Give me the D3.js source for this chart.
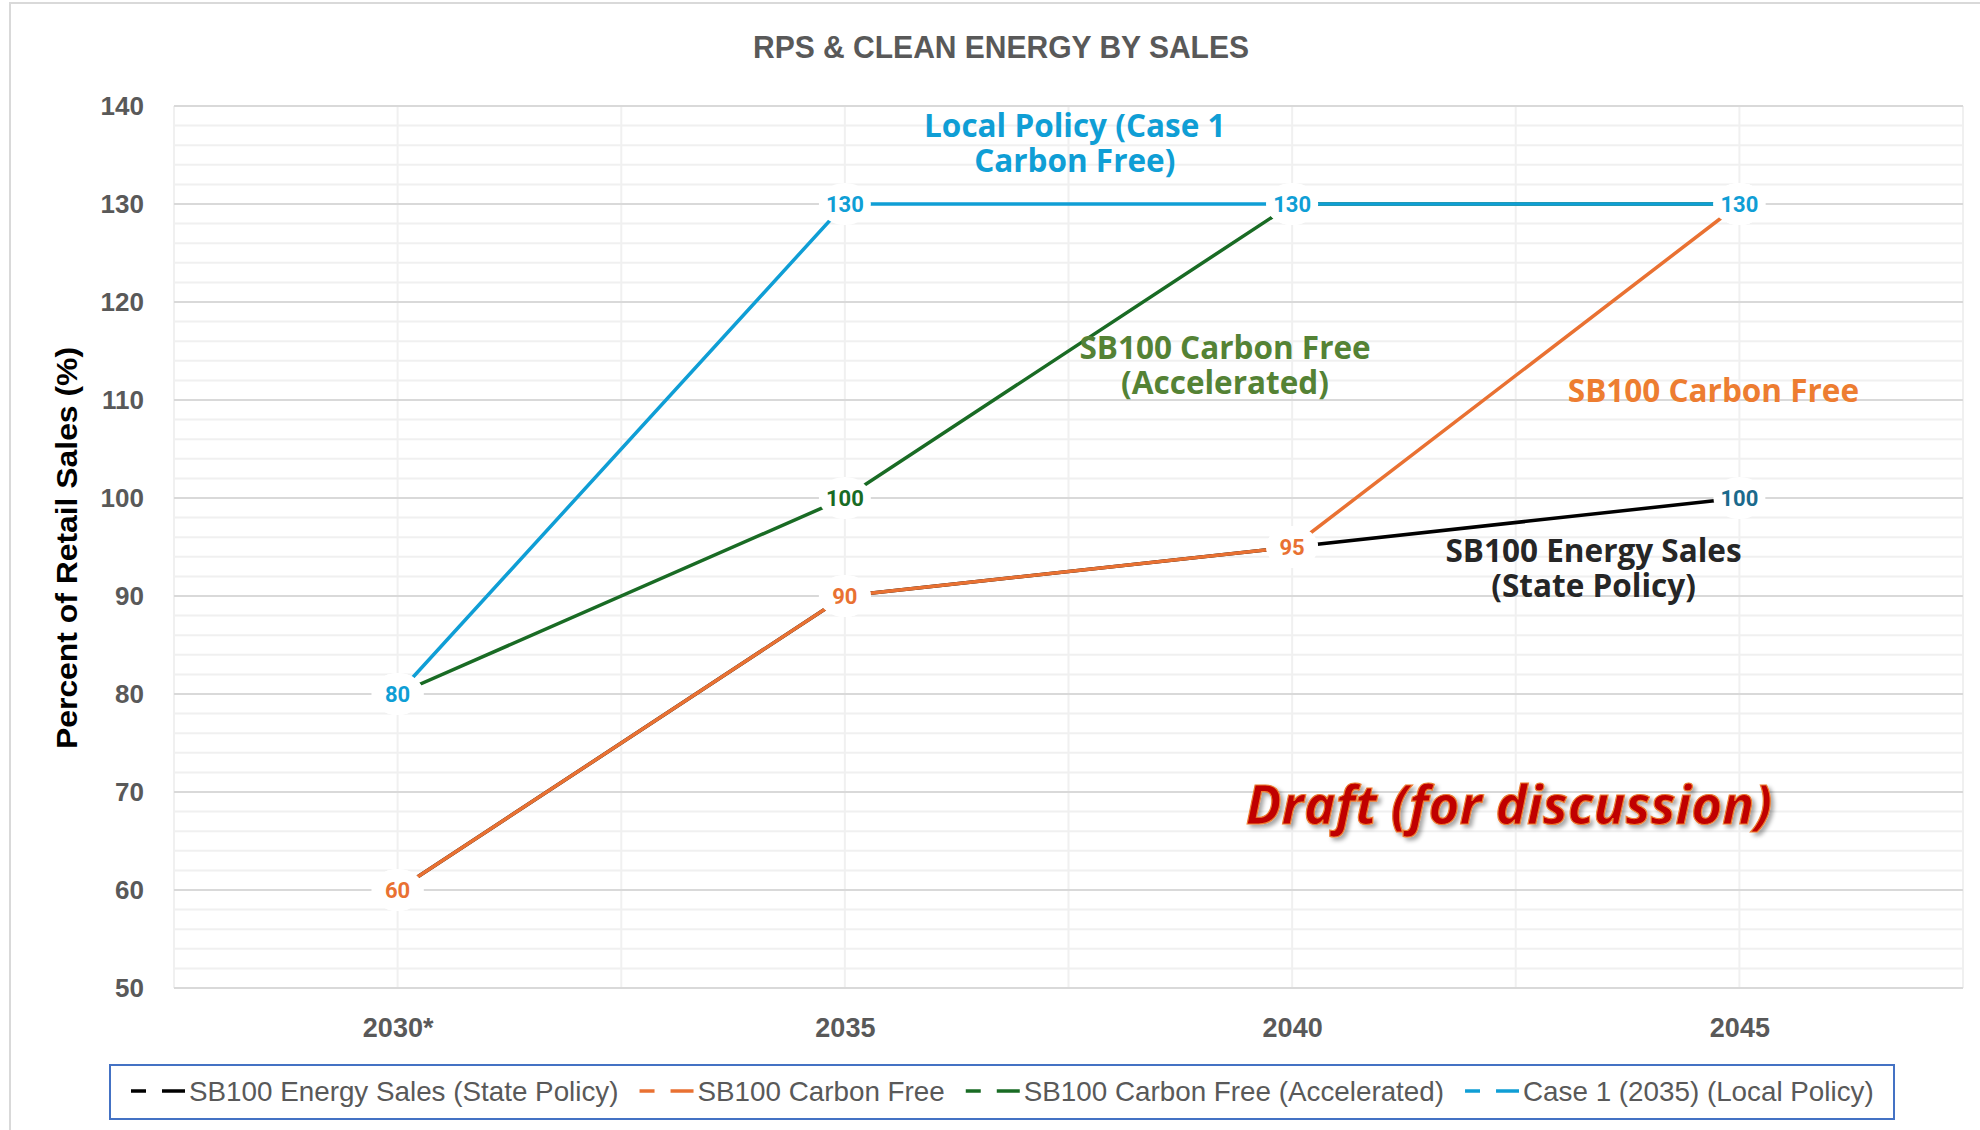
<!DOCTYPE html>
<html>
<head>
<meta charset="utf-8">
<script src="https://cdn.jsdelivr.net/npm/d3@7"></script>
<style>
  body { margin: 0; background: #fff; }
  svg { display: block; }
</style>
</head>
<body>
<div id="chart"></div>
<script>
// chart data
const years = ["2030*", "2035", "2040", "2045"];
const seriesNames = [
    "SB100 Energy Sales (State Policy)",
    "SB100 Carbon Free",
    "SB100 Carbon Free (Accelerated)",
    "Case 1 (2035) (Local Policy)"
];
const stateSales = [60, 90, 95, 100];
const carbonFree = [60, 90, 95, 130];
const carbonFreeAccel = [80, 100, 130, 130];
const localPolicy = [80, 130, 130, 130];
const yTicks = [50, 60, 70, 80, 90, 100, 110, 120, 130, 140];

// colours for each series (line, data label)
const lineColors = ["#000000", "#E97132", "#196B24", "#0F9ED5"];
const labelColors = ["#1B6A8C", "#E97132", "#196B24", "#0F9ED5"];

const series = [stateSales, carbonFree, carbonFreeAccel, localPolicy].map(function (vals, i) {
    return {
        name: seriesNames[i],
        line: lineColors[i],
        label: labelColors[i],
        points: vals.map(function (v, j) { return { year: years[j], value: v }; })
    };
});

// annotations placed in the plot (year / value space)
const notes = [
    { lines: ["Local Policy (Case 1", "Carbon Free)"], year: 2037.57, value: 136.8, color: "#0F9ED5" },
    { lines: ["SB100 Carbon Free", "(Accelerated)"], year: 2039.25, value: 114.2, color: "#548235" },
    { lines: ["SB100 Carbon Free"], year: 2044.71, value: 109.8, color: "#ED7D31" },
    { lines: ["SB100 Energy Sales", "(State Policy)"], year: 2043.37, value: 93.5, color: "#262626" }
];

let width = 1980,
    height = 1130,
    margin = { top: 106, right: 17, bottom: 142, left: 174 };

let svg = d3.select("#chart")
    .append("svg")
    .attr("width", width)
    .attr("height", height);

// drop shadow for the draft stamp
let defs = svg.append("defs");
let f = defs.append("filter").attr("id", "shadow").attr("x", "-10%").attr("y", "-30%").attr("width", "120%").attr("height", "160%");
f.append("feDropShadow").attr("dx", 3).attr("dy", 3).attr("stdDeviation", 2).attr("flood-color", "#000").attr("flood-opacity", 0.35);

// chart area border
svg.append("rect")
    .attr("x", 10).attr("y", 3)
    .attr("width", width).attr("height", height)
    .attr("fill", "#fff")
    .attr("stroke", "#D9D9D9")
    .attr("stroke-width", 2);

let x = d3.scalePoint()
    .domain(years)
    .range([margin.left, width - margin.right])
    .padding(0.5);

let y = d3.scaleLinear()
    .domain([50, 140])
    .range([height - margin.bottom, margin.top]);

// numeric year scale for annotation placement
let xYear = d3.scaleLinear()
    .domain([2030, 2045])
    .range([x("2030*"), x("2045")]);

let g = svg.append("g");

// minor horizontal gridlines every 2
g.append("g")
    .selectAll("line")
    .data(d3.range(50, 141, 2).filter(function (v) { return v % 10 !== 0; }))
    .enter()
    .append("line")
    .attr("x1", margin.left).attr("x2", width - margin.right)
    .attr("y1", function (d) { return y(d); })
    .attr("y2", function (d) { return y(d); })
    .attr("stroke", "#F0F0F0")
    .attr("stroke-width", 2);

// vertical gridlines at categories and between them
let step = x.step();
let vLines = [];
years.forEach(function (yr) { vLines.push(x(yr) - step / 2, x(yr)); });
vLines.push(x("2045") + step / 2);
g.append("g")
    .selectAll("line")
    .data(vLines)
    .enter()
    .append("line")
    .attr("x1", function (d) { return d; })
    .attr("x2", function (d) { return d; })
    .attr("y1", y(140)).attr("y2", y(50))
    .attr("stroke", "#F0F0F0")
    .attr("stroke-width", 2);

// major horizontal gridlines
g.append("g")
    .selectAll("line")
    .data(yTicks)
    .enter()
    .append("line")
    .attr("x1", margin.left).attr("x2", width - margin.right)
    .attr("y1", function (d) { return y(d); })
    .attr("y2", function (d) { return y(d); })
    .attr("stroke", "#D9D9D9")
    .attr("stroke-width", 2);

// y axis tick labels
let yAxis = d3.axisLeft(y).tickValues(yTicks).tickSize(0).tickPadding(30);
let yg = svg.append("g")
    .attr("transform", "translate(" + margin.left + ",0)")
    .call(yAxis);
yg.select(".domain").remove();
yg.selectAll("text")
    .attr("font-family", "Liberation Sans, Arial, sans-serif")
    .attr("font-weight", "bold")
    .attr("font-size", "26px")
    .attr("fill", "#595959");

// x axis tick labels
let xAxis = d3.axisBottom(x).tickSize(0).tickPadding(30);
let xg = svg.append("g")
    .attr("transform", "translate(0," + y(50) + ")")
    .call(xAxis);
xg.select(".domain").remove();
xg.selectAll("text")
    .attr("font-family", "Liberation Sans, Arial, sans-serif")
    .attr("font-weight", "bold")
    .attr("font-size", "27px")
    .attr("fill", "#595959");

// title
svg.append("text")
    .attr("x", 1001).attr("y", 58)
    .attr("text-anchor", "middle")
    .attr("font-family", "Liberation Sans, Arial, sans-serif")
    .attr("font-weight", "bold")
    .attr("font-size", "31px")
    .attr("fill", "#595959")
    .attr("textLength", 496)
    .attr("lengthAdjust", "spacingAndGlyphs")
    .text("RPS & CLEAN ENERGY BY SALES");

// y axis title
svg.append("text")
    .attr("transform", "translate(77," + 548 + ") rotate(-90)")
    .attr("text-anchor", "middle")
    .attr("font-family", "Liberation Sans, Arial, sans-serif")
    .attr("font-weight", "bold")
    .attr("font-size", "29px")
    .attr("fill", "#000")
    .attr("textLength", 402)
    .attr("lengthAdjust", "spacingAndGlyphs")
    .text("Percent of Retail Sales (%)");

// series lines
let line = d3.line()
    .x(function (d) { return x(d.year); })
    .y(function (d) { return y(d.value); });

svg.append("g")
    .selectAll("path")
    .data(series)
    .enter()
    .append("path")
    .attr("d", function (d) { return line(d.points); })
    .attr("fill", "none")
    .attr("stroke", function (d) { return d.line; })
    .attr("stroke-width", 3.5);

// data labels with white backgrounds
series.forEach(function (s) {
    let lg = svg.append("g");
    let lab = lg.selectAll("g")
        .data(s.points)
        .enter()
        .append("g")
        .attr("transform", function (d) { return "translate(" + x(d.year) + "," + y(d.value) + ")"; });
    lab.append("ellipse")
        .attr("rx", 26).attr("ry", 21)
        .attr("fill", "#fff");
    lab.append("text")
        .attr("text-anchor", "middle")
        .attr("dy", "0.36em")
        .attr("font-family", "Roboto, sans-serif")
        .attr("font-weight", "bold")
        .attr("font-size", "22px")
        .attr("fill", s.label)
        .text(function (d) { return d.value; });
});

// in-chart annotations, one text per line
notes.forEach(function (n) {
    n.lines.forEach(function (ln, i) {
        svg.append("text")
            .attr("x", xYear(n.year))
            .attr("y", y(n.value) + i * 35)
            .attr("text-anchor", "middle")
            .attr("font-family", "Open Sans, sans-serif")
            .attr("font-weight", "bold")
            .attr("font-size", "31.5px")
            .attr("fill", n.color)
            .text(ln);
    });
});

// draft stamp
svg.append("text")
    .attr("x", 1509).attr("y", 824)
    .attr("text-anchor", "middle")
    .attr("font-family", "Open Sans, sans-serif")
    .attr("font-weight", "bold")
    .attr("font-style", "italic")
    .attr("font-size", "53px")
    .attr("fill", "#C00000")
    .attr("stroke", "#ED7D31")
    .attr("stroke-width", 1.2)
    .attr("filter", "url(#shadow)")
    .text("Draft (for discussion)");

// legend
let legend = svg.append("g");
legend.append("rect")
    .attr("x", 110).attr("y", 1065)
    .attr("width", 1784).attr("height", 54)
    .attr("fill", "#fff")
    .attr("stroke", "#4472C4")
    .attr("stroke-width", 2);

let lx = 131;
series.forEach(function (s) {
    let item = legend.append("g").attr("transform", "translate(" + lx + ",1091)");
    item.append("line").attr("x1", 0).attr("x2", 15).attr("y1", 0).attr("y2", 0)
        .attr("stroke", s.line).attr("stroke-width", 3.5);
    item.append("line").attr("x1", 31).attr("x2", 54).attr("y1", 0).attr("y2", 0)
        .attr("stroke", s.line).attr("stroke-width", 3.5);
    let t = item.append("text")
        .attr("x", 58).attr("dy", "0.35em")
        .attr("font-family", "Liberation Sans, Arial, sans-serif")
        .attr("font-size", "27.8px")
        .attr("fill", "#595959")
        .text(s.name);
    lx += 58 + t.node().getComputedTextLength() + 21;
});
</script>
</body>
</html>
